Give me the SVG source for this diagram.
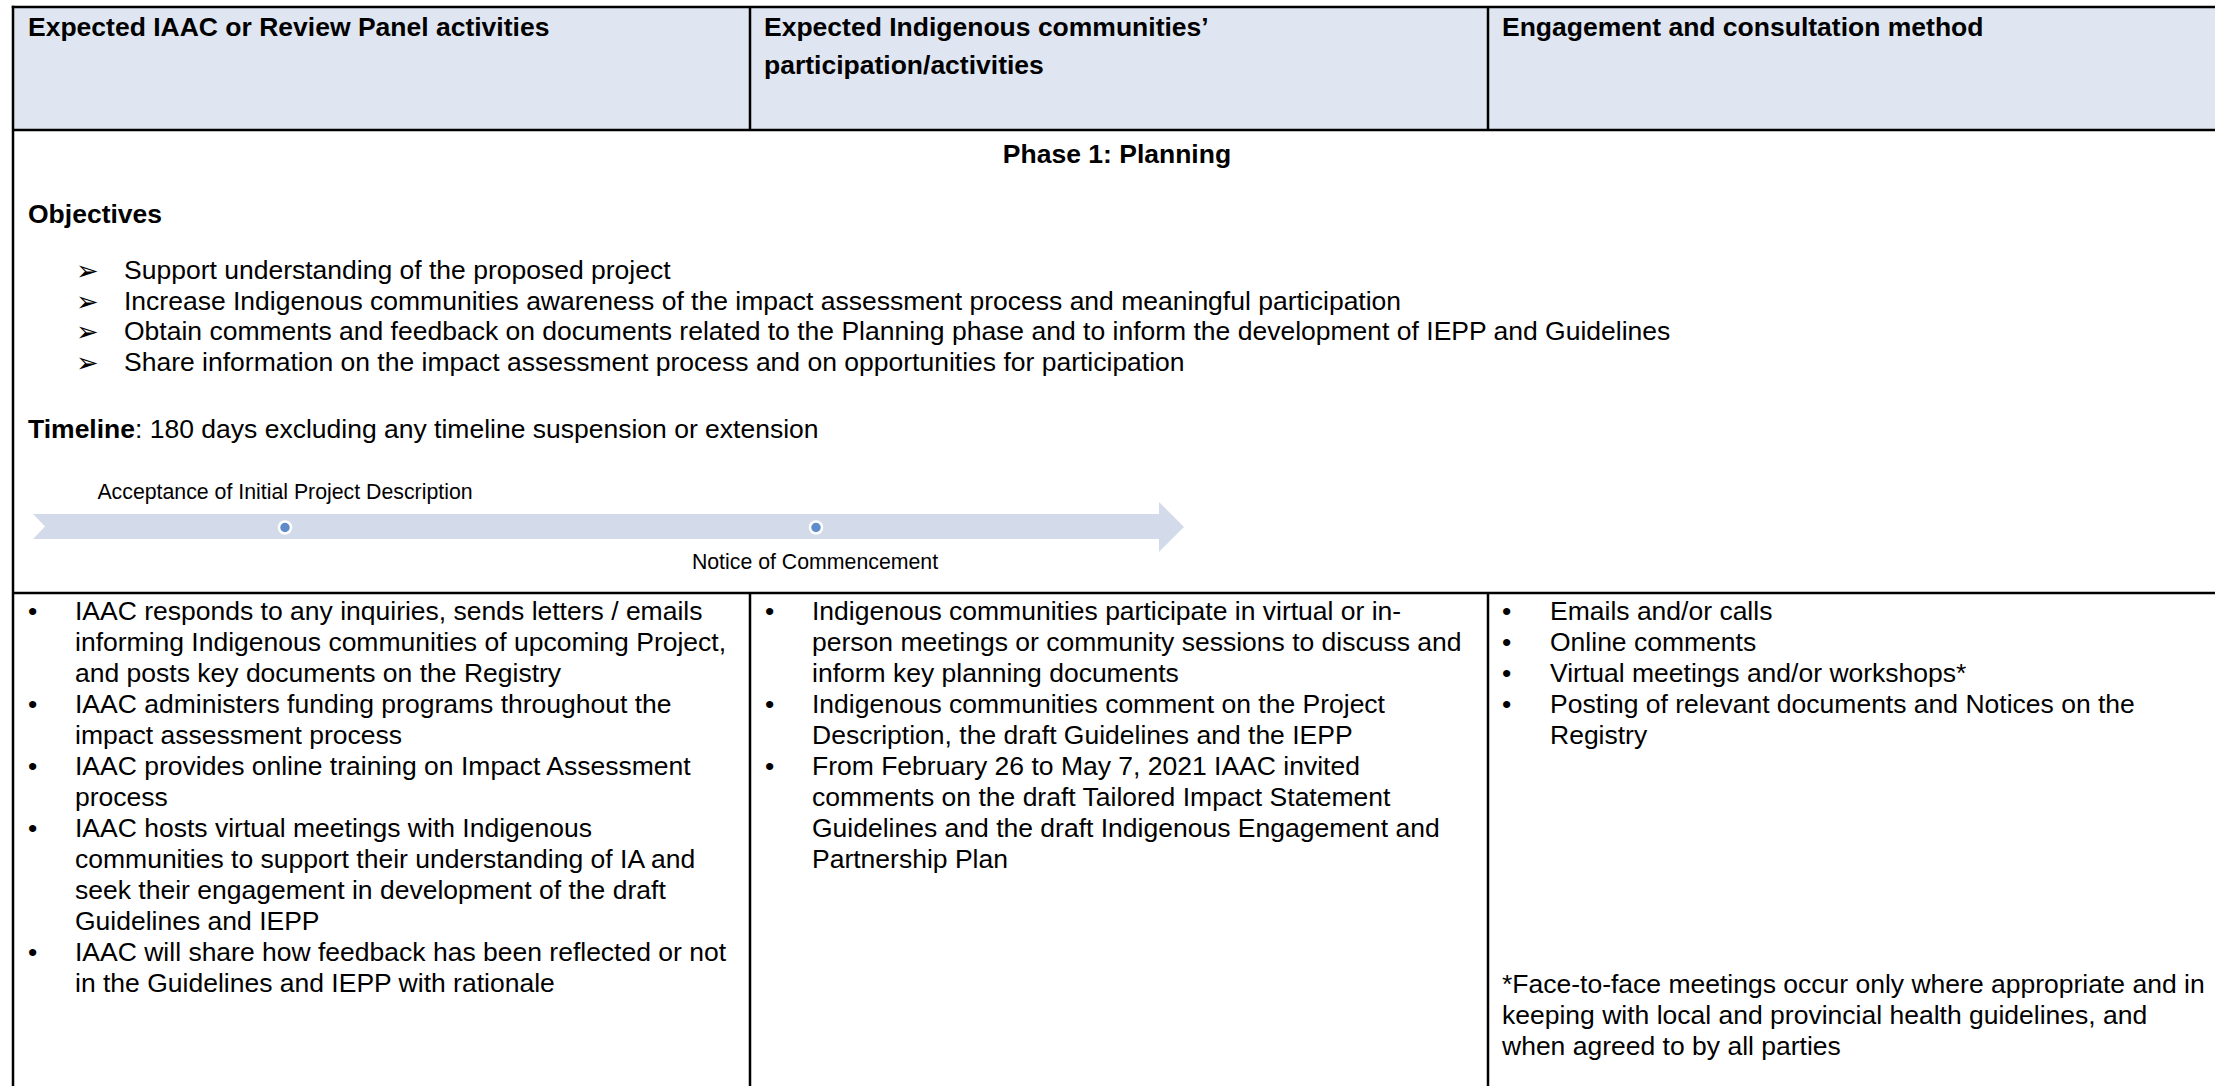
<svg xmlns="http://www.w3.org/2000/svg" width="2215" height="1086" viewBox="0 0 2215 1086">
<style>
  text { font-family: "Liberation Sans", Arial, sans-serif; fill: #000; }
  .h { font-size: 26.5px; font-weight: bold; }
  .b { font-size: 26.5px; }
  .s { font-size: 21.3px; }
  .arr { font-family: "DejaVu Sans", sans-serif; font-size: 27px; }
  .grid line { stroke: #000; stroke-width: 2.5; }
</style>
<rect width="2215" height="1086" fill="#ffffff"/>
<g id="header">
  <rect x="13" y="7" width="2202" height="123" fill="#dfe6f1"/>
  <g id="hdr-col1"><text class="h" x="28" y="36">Expected IAAC or Review Panel activities</text></g>
  <g id="hdr-col2"><text class="h" x="764" y="36">Expected Indigenous communities’</text><text class="h" x="764" y="74">participation/activities</text></g>
  <g id="hdr-col3"><text class="h" x="1502" y="36">Engagement and consultation method</text></g>
</g>
<g id="phase">
  <text class="h" x="1117" y="163" text-anchor="middle">Phase 1: Planning</text>
  <text class="h" x="28" y="223">Objectives</text>
  <g id="objectives">
    <text class="arr" x="76" y="280">➢</text><text class="b" x="124" y="279">Support understanding of the proposed project</text>
    <text class="arr" x="76" y="310.5">➢</text><text class="b" x="124" y="309.5">Increase Indigenous communities awareness of the impact assessment process and meaningful participation</text>
    <text class="arr" x="76" y="341">➢</text><text class="b" x="124" y="340">Obtain comments and feedback on documents related to the Planning phase and to inform the development of IEPP and Guidelines</text>
    <text class="arr" x="76" y="371.5">➢</text><text class="b" x="124" y="370.5">Share information on the impact assessment process and on opportunities for participation</text>
  </g>
  <text class="b" x="28" y="438"><tspan font-weight="bold">Timeline</tspan>: 180 days excluding any timeline suspension or extension</text>
  <g id="timeline">
    <polygon points="33,514 1159,514 1159,502 1184,527 1159,552 1159,539 33,539 45,526.5" fill="#d3dbea"/>
    <circle cx="285" cy="527.5" r="6" fill="#5f8bcb" stroke="#ffffff" stroke-width="2.5"/>
    <circle cx="816" cy="527.5" r="6" fill="#5f8bcb" stroke="#ffffff" stroke-width="2.5"/>
    <text class="s" x="285" y="499" text-anchor="middle">Acceptance of Initial Project Description</text>
    <text class="s" x="815" y="569" text-anchor="middle">Notice of Commencement</text>
  </g>
</g>
<g id="col1">
  <text class="b" x="28" y="620">•</text><text class="b" x="75" y="620">IAAC responds to any inquiries, sends letters / emails</text>
  <text class="b" x="75" y="651">informing Indigenous communities of upcoming Project,</text>
  <text class="b" x="75" y="682">and posts key documents on the Registry</text>
  <text class="b" x="28" y="713">•</text><text class="b" x="75" y="713">IAAC administers funding programs throughout the</text>
  <text class="b" x="75" y="744">impact assessment process</text>
  <text class="b" x="28" y="775">•</text><text class="b" x="75" y="775">IAAC provides online training on Impact Assessment</text>
  <text class="b" x="75" y="806">process</text>
  <text class="b" x="28" y="837">•</text><text class="b" x="75" y="837">IAAC hosts virtual meetings with Indigenous</text>
  <text class="b" x="75" y="868">communities to support their understanding of IA and</text>
  <text class="b" x="75" y="899">seek their engagement in development of the draft</text>
  <text class="b" x="75" y="930">Guidelines and IEPP</text>
  <text class="b" x="28" y="961">•</text><text class="b" x="75" y="961">IAAC will share how feedback has been reflected or not</text>
  <text class="b" x="75" y="992">in the Guidelines and IEPP with rationale</text>
</g>
<g id="col2">
  <text class="b" x="765" y="620">•</text><text class="b" x="812" y="620">Indigenous communities participate in virtual or in-</text>
  <text class="b" x="812" y="651">person meetings or community sessions to discuss and</text>
  <text class="b" x="812" y="682">inform key planning documents</text>
  <text class="b" x="765" y="713">•</text><text class="b" x="812" y="713">Indigenous communities comment on the Project</text>
  <text class="b" x="812" y="744">Description, the draft Guidelines and the IEPP</text>
  <text class="b" x="765" y="775">•</text><text class="b" x="812" y="775">From February 26 to May 7, 2021 IAAC invited</text>
  <text class="b" x="812" y="806">comments on the draft Tailored Impact Statement</text>
  <text class="b" x="812" y="837">Guidelines and the draft Indigenous Engagement and</text>
  <text class="b" x="812" y="868">Partnership Plan</text>
</g>
<g id="col3">
  <text class="b" x="1502" y="620">•</text><text class="b" x="1550" y="620">Emails and/or calls</text>
  <text class="b" x="1502" y="651">•</text><text class="b" x="1550" y="651">Online comments</text>
  <text class="b" x="1502" y="682">•</text><text class="b" x="1550" y="682">Virtual meetings and/or workshops*</text>
  <text class="b" x="1502" y="713">•</text><text class="b" x="1550" y="713">Posting of relevant documents and Notices on the</text>
  <text class="b" x="1550" y="744">Registry</text>
  <text class="b" x="1502" y="993">*Face-to-face meetings occur only where appropriate and in</text>
  <text class="b" x="1502" y="1024">keeping with local and provincial health guidelines, and</text>
  <text class="b" x="1502" y="1055">when agreed to by all parties</text>
</g>
<g id="connectors" class="grid">
  <line x1="11.75" y1="7" x2="2215" y2="7"/>
  <line x1="13" y1="5.75" x2="13" y2="1086"/>
  <line x1="13" y1="130" x2="2215" y2="130"/>
  <line x1="13" y1="593" x2="2215" y2="593"/>
  <line x1="750" y1="7" x2="750" y2="130"/>
  <line x1="1488" y1="7" x2="1488" y2="130"/>
  <line x1="750" y1="593" x2="750" y2="1086"/>
  <line x1="1488" y1="593" x2="1488" y2="1086"/>
</g>
</svg>
